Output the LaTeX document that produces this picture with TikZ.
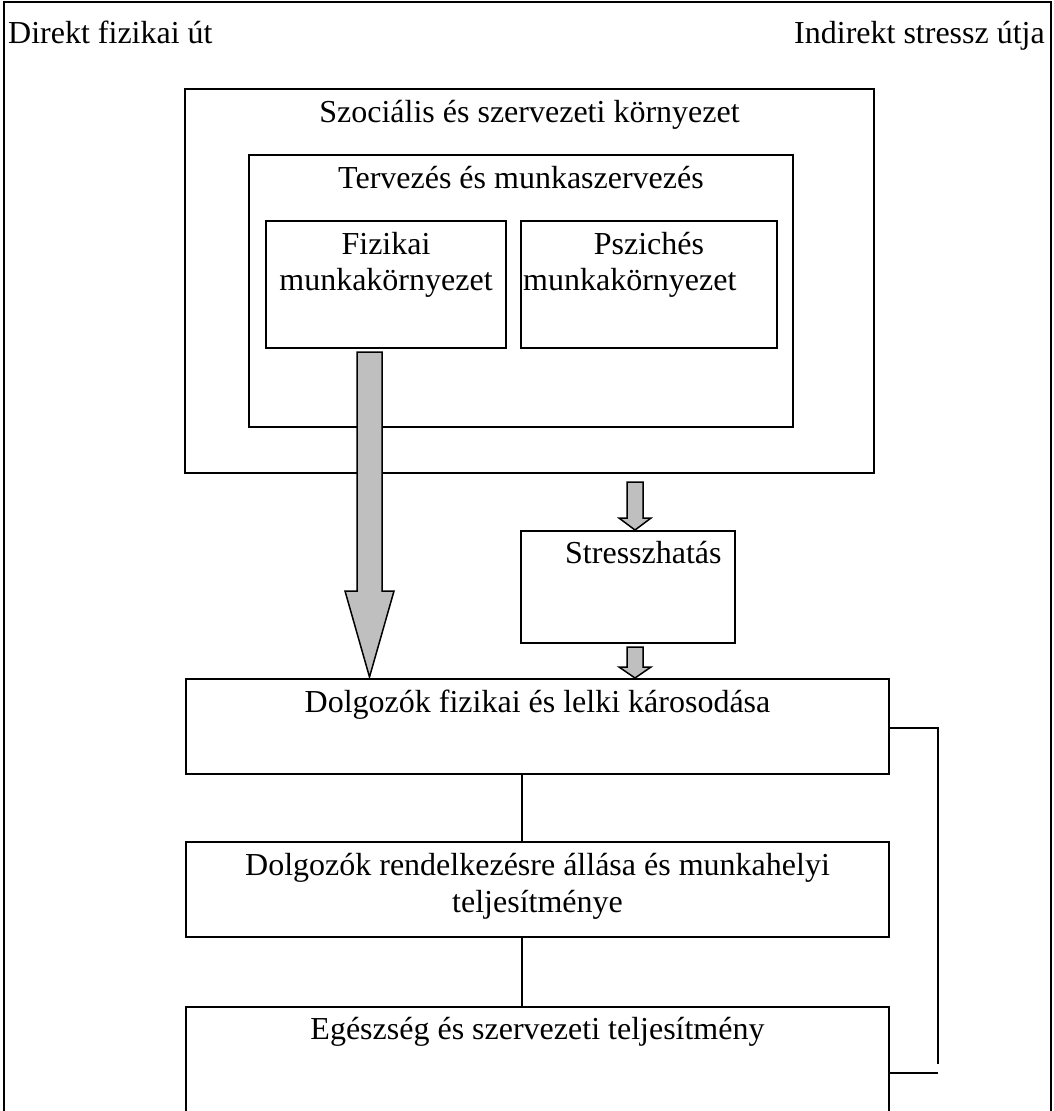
\documentclass[tikz,border=0pt]{standalone}
\usepackage{fontspec}
\setmainfont{Liberation Serif}
\begin{document}
\begin{tikzpicture}[x=1pt,y=-1pt,
  box/.style={draw, line width=1.8pt, inner sep=0pt, outer sep=0pt, anchor=north west},
  txt/.style={font=\fontsize{32}{37}\selectfont, inner sep=0pt, anchor=base},
  conn/.style={line width=1.8pt},
  barrow/.style={draw, line width=1.5pt, fill=black!25, line join=miter}]
\useasboundingbox (0,0) rectangle (1053,1111);
\clip (0,0) rectangle (1053,1111);
% outer frame
\node[box, minimum width=1047pt, minimum height=1250pt] (frame) at (4,2) {};
\node[txt, anchor=base west] (t1) at (8,43) {Direkt fizikai út};
\node[txt, anchor=base east] (t2) at (1045,43) {Indirekt stressz útja};
% boxes
\node[box, minimum width=689pt, minimum height=384pt] (soc) at (185,89) {};
\node[box, minimum width=544pt, minimum height=272pt] (terv) at (249,155) {};
\node[box, minimum width=240pt, minimum height=127pt] (fiz) at (266,221) {};
\node[box, minimum width=256pt, minimum height=127pt] (psz) at (521,221) {};
\node[box, minimum width=214pt, minimum height=112pt] (str) at (521,531) {};
\node[box, minimum width=703pt, minimum height=95pt] (dk) at (186,679) {};
\node[box, minimum width=703pt, minimum height=95pt] (dr) at (186,842) {};
\node[box, minimum width=703pt, minimum height=250pt] (eg) at (186,1007) {};
% texts
\node[txt] (socT) at (soc.north |- 0,122) {Szociális és szervezeti környezet};
\node[txt] (tervT) at (terv.north |- 0,188) {Tervezés és munkaszervezés};
\node[txt] (fizT1) at (fiz.north |- 0,254) {Fizikai};
\node[txt] (fizT2) at (fiz.north |- 0,290) {munkakörnyezet};
\node[txt] (pszT1) at (649,254) {Pszichés};
\node[txt, anchor=base west] (pszT2) at (523,290) {munkakörnyezet};
\node[txt, anchor=base west] (strT) at (565,563) {Stresszhatás};
\node[txt] (dkT) at (dk.north |- 0,712) {Dolgozók fizikai és lelki károsodása};
\node[txt] (drT1) at (dr.north |- 0,875) {Dolgozók rendelkezésre állása és munkahelyi};
\node[txt] (drT2) at (dr.north |- 0,912) {teljesítménye};
\node[txt] (egT) at (eg.north |- 0,1039) {Egészség és szervezeti teljesítmény};
% block arrows
\draw[barrow] (357,352) -- (382,352) -- (382,591) -- (394,591) -- (369.5,677)
  -- (345,591) -- (357,591) -- cycle;
\draw[barrow] (627,482) -- (643,482) -- (643,518) -- (651,518) -- (635,530)
  -- (619,518) -- (627,518) -- cycle;
\draw[barrow] (627,647) -- (643,647) -- (643,667) -- (651,667) -- (635,678)
  -- (619,667) -- (627,667) -- cycle;
% connectors
\coordinate (cx) at (522,0);
\draw[conn] (dk.south -| cx) -- (dr.north -| cx);
\draw[conn] (dr.south -| cx) -- (eg.north -| cx);
\coordinate (r1) at (889,728);
\coordinate (r2) at (938,1064);
\coordinate (r3) at (938,1073);
\draw[conn] (r1) -| (r2);
\draw[conn] (r3) -- (eg.east |- r3);
\end{tikzpicture}
\end{document}
